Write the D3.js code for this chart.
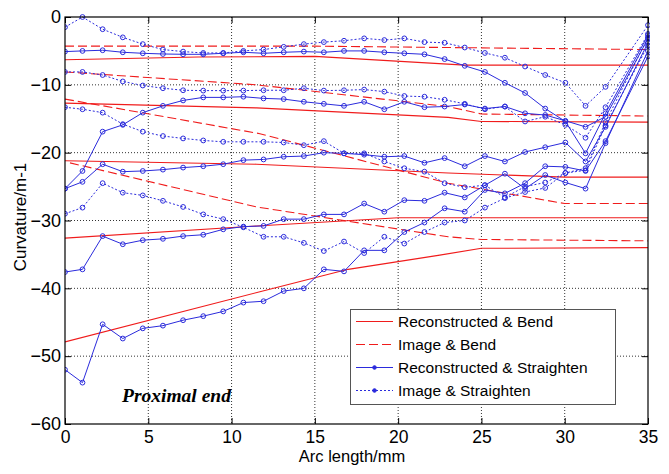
<!DOCTYPE html>
<html><head><meta charset="utf-8">
<script src="https://cdn.jsdelivr.net/npm/d3@7"></script>
<style>
html,body{margin:0;padding:0;background:#fff;}
svg text{font-family:"Liberation Sans",Arial,sans-serif;fill:#000;}
</style></head>
<body><svg id="c" width="669" height="474"></svg>
<script>
// ---- data ----
const xTicks = [0,5,10,15,20,25,30,35];
const yTicks = [0,-10,-20,-30,-40,-50,-60];
const arcPts = [0,1.05,2.26,3.47,4.67,5.88,7.09,8.30,9.50,10.71,11.92,13.13,14.34,15.54,16.75,17.96,19.17,20.37,21.58,22.79,24.00,25.21,26.41,27.62,28.83,30.04,31.25,32.45,35];

// Reconstructed & Straighten (blue solid with markers)
const recStrA = [-5.1,-5.0,-4.9,-5.2,-5.35,-5.45,-5.5,-5.5,-5.35,-5.2,-5.35,-5.2,-5.1,-5.2,-5.0,-5.0,-5.2,-5.35,-5.5,-6.2,-7.2,-8.1,-9.7,-11.2,-13.5,-15.4,-20.1,-14.2,-2.7];
const recStrB = [-25.3,-22.7,-16.9,-15.9,-14.1,-13.1,-12.3,-11.85,-11.85,-11.75,-12.0,-12.1,-12.5,-12.8,-13.1,-12.5,-13.6,-12.5,-13.3,-13.2,-12.9,-13.5,-13.2,-14.2,-14.45,-15.3,-16.2,-14.7,-3.2];
const recStrC = [-25.3,-24.3,-21.7,-22.8,-22.7,-22.5,-22.2,-22.0,-21.7,-21.1,-21.0,-20.6,-20.5,-20.0,-20.1,-20.3,-20.6,-20.5,-21.5,-20.8,-22.0,-20.5,-21.3,-19.9,-19.2,-18.5,-21.3,-16.2,-3.8];
const recStrD = [-37.6,-37.2,-32.3,-33.5,-32.9,-32.7,-32.3,-32.1,-31.3,-30.9,-30.8,-29.8,-29.8,-29.1,-29.1,-27.5,-28.7,-27.0,-27.1,-25.9,-26.6,-24.8,-23.1,-25.3,-23.3,-24.4,-25.3,-18.6,-5.0];
const recStrE = [-52.0,-53.9,-45.3,-47.4,-45.9,-45.5,-44.7,-44.1,-43.4,-42.1,-41.9,-40.4,-40.0,-37.2,-37.5,-34.4,-34.4,-31.7,-30.3,-28.2,-28.7,-25.5,-26.0,-24.5,-22.0,-22.1,-22.7,-18.3,-5.8];

// Image & Straighten (blue dotted with markers)
const imgStrA = [-1.5,0.0,-1.8,-3.0,-4.0,-4.8,-5.1,-5.3,-5.3,-5.0,-4.8,-4.4,-4.0,-3.7,-3.5,-3.15,-3.4,-3.15,-3.7,-3.8,-4.5,-5.3,-6.0,-7.3,-8.55,-9.7,-13.1,-10.3,-1.2];
const imgStrB = [-8.1,-8.1,-8.55,-9.5,-10.1,-10.5,-10.8,-10.85,-10.85,-10.85,-10.8,-10.8,-10.5,-10.85,-10.8,-10.7,-11.0,-11.65,-11.75,-12.2,-12.8,-13.6,-13.2,-15.4,-14.7,-15.9,-17.8,-13.3,-2.5];
const imgStrC = [-13.3,-13.6,-14.1,-15.8,-16.9,-17.55,-17.9,-18.2,-18.4,-18.4,-18.4,-18.5,-18.9,-18.3,-20.1,-20.1,-21.3,-22.3,-22.8,-24.5,-25.1,-24.8,-26.6,-25.0,-24.4,-23.0,-22.3,-15.5,-3.0];
const imgStrD = [-29.0,-28.1,-24.5,-25.9,-26.3,-27.1,-28.0,-29.1,-29.8,-31.0,-32.4,-32.4,-33.3,-34.5,-33.1,-34.8,-32.4,-33.4,-31.7,-30.3,-30.0,-28.1,-26.7,-25.8,-25.2,-23.0,-22.6,-16.0,-4.2];

// Reconstructed & Bend (red solid), breakpoints [arc, curvature]
const recBendA = [[0,-6.3],[8,-5.9],[15,-5.8],[24,-7.1],[35,-7.1]];
const recBendB = [[0,-12.7],[11.5,-13.4],[23,-14.8],[25,-15.4],[35,-15.5]];
const recBendC = [[0,-21.2],[11.5,-21.7],[23,-23.0],[30,-23.6],[35,-23.6]];
const recBendD = [[0,-32.6],[11.5,-30.8],[20,-29.6],[35,-29.6]];
const recBendE = [[0,-47.9],[11.7,-40.5],[17,-37.2],[22.5,-35.1],[25,-34.1],[35,-34.0]];
// Image & Bend (red dashed)
const imgBendA = [[0,-4.3],[15,-4.3],[35,-4.8]];
const imgBendB = [[0,-8.1],[11.5,-10.0],[23,-13.2],[25,-14.3],[35,-14.6]];
const imgBendC = [[0,-12.1],[11.7,-17.2],[23,-24.5],[30,-27.5],[35,-27.5]];
const imgBendD = [[0.3,-21.5],[11.5,-28.0],[23,-32.4],[25,-32.8],[35,-33.0]];

const legendLabels = ["Reconstructed & Bend","Image & Bend","Reconstructed & Straighten","Image & Straighten"];

// ---- drawing ----
const svg = d3.select("#c");
const L=65,R=648,T=17,B=424;
const x = d3.scaleLinear().domain([0,35]).range([L,R]);
const y = d3.scaleLinear().domain([-60,0]).range([B,T]);
const RED="#f01c1c", BLUE="#2b2bdc";

svg.append("defs").append("clipPath").attr("id","pc").append("rect")
  .attr("x",L).attr("y",T-4).attr("width",R-L+2).attr("height",B-T+8);

// grid
const grid = svg.append("g").attr("stroke","#333").attr("stroke-width",1).attr("stroke-dasharray","1,2");
xTicks.slice(1,-1).forEach(t=>grid.append("line").attr("x1",x(t)).attr("x2",x(t)).attr("y1",T).attr("y2",B));
yTicks.slice(1,-1).forEach(t=>grid.append("line").attr("y1",y(t)).attr("y2",y(t)).attr("x1",L).attr("x2",R));

const plot = svg.append("g").attr("clip-path","url(#pc)");
const lineP = d3.line().x(d=>x(d[0])).y(d=>y(d[1]));

[recBendA,recBendB,recBendC,recBendD,recBendE].forEach(s=>{
  plot.append("path").attr("d",lineP(s)).attr("fill","none").attr("stroke",RED).attr("stroke-width",1.1);
});
[imgBendA,imgBendB,imgBendC,imgBendD].forEach(s=>{
  plot.append("path").attr("d",lineP(s)).attr("fill","none").attr("stroke",RED).attr("stroke-width",1.1).attr("stroke-dasharray","9,4");
});
function blue(vals, dotted){
  const pts = arcPts.map((a,i)=>[a,vals[i]]);
  plot.append("path").attr("d",lineP(pts)).attr("fill","none").attr("stroke",BLUE).attr("stroke-width",1)
    .attr("stroke-dasharray",dotted?"2,2":null);
  plot.selectAll(null).data(pts).enter().append("circle")
    .attr("cx",d=>x(d[0])).attr("cy",d=>y(d[1])).attr("r",2.4)
    .attr("fill","none").attr("stroke",BLUE).attr("stroke-width",1);
}
[recStrA,recStrB,recStrC,recStrD,recStrE].forEach(s=>blue(s,false));
[imgStrA,imgStrB,imgStrC,imgStrD].forEach(s=>blue(s,true));

// axes box and ticks
svg.append("rect").attr("x",L).attr("y",T).attr("width",R-L).attr("height",B-T)
  .attr("fill","none").attr("stroke","#000").attr("stroke-width",1.2);
const xa = svg.append("g").attr("transform",`translate(0,${B})`)
  .call(d3.axisBottom(x).tickValues(xTicks).tickSize(-6).tickFormat(d3.format("d")));
const xt = svg.append("g").attr("transform",`translate(0,${T})`)
  .call(d3.axisTop(x).tickValues(xTicks).tickSize(-6).tickFormat(""));
const ya = svg.append("g").attr("transform",`translate(${L},0)`)
  .call(d3.axisLeft(y).tickValues(yTicks).tickSize(-6).tickFormat(d3.format("d")));
const yr = svg.append("g").attr("transform",`translate(${R},0)`)
  .call(d3.axisRight(y).tickValues(yTicks).tickSize(-6).tickFormat(""));
[xa,xt,ya,yr].forEach(g=>{g.select(".domain").remove();g.selectAll("line").attr("stroke","#000");});
xa.selectAll("text").attr("font-size","17.5px").attr("font-family","Liberation Sans, Arial").attr("y",6.5).attr("dy","0.71em");
ya.selectAll("text").attr("font-size","18px").attr("font-family","Liberation Sans, Arial").attr("x",-4);

// axis titles
svg.append("text").attr("x",352).attr("y",462).attr("text-anchor","middle").attr("font-size","16.5px").text("Arc length/mm");
svg.append("text").attr("transform","translate(26,217) rotate(-90)").attr("text-anchor","middle").attr("font-size","17px").text("Curvature/m-1");

// annotation
svg.append("text").attr("x",122).attr("y",402)
  .attr("font-weight","bold").attr("font-style","italic").attr("font-size","19.5px")
  .style("font-family","'Liberation Serif','Times New Roman',serif").text("Proximal end");

// legend
const lg = svg.append("g");
lg.append("rect").attr("x",350.5).attr("y",309.5).attr("width",265).attr("height",95).attr("fill","#fff").attr("stroke","#555").attr("stroke-width",1);
const styles=[{c:RED,d:"none",m:false},{c:RED,d:"9,4",m:false},{c:BLUE,d:"none",m:true},{c:BLUE,d:"2,2",m:true}];
legendLabels.forEach((lab,i)=>{
  const yy = 321.5 + i*23;
  lg.append("line").attr("x1",356).attr("x2",393).attr("y1",yy).attr("y2",yy)
    .style("stroke",styles[i].c).style("stroke-width",1.1).style("stroke-dasharray",styles[i].d);
  if(styles[i].m) lg.append("circle").attr("cx",374.5).attr("cy",yy).attr("r",1.8).attr("fill",BLUE).attr("stroke",BLUE);
  lg.append("text").attr("x",398).attr("y",yy).attr("dy","0.35em").attr("font-size","15.5px").text(lab);
});
</script></body></html>
